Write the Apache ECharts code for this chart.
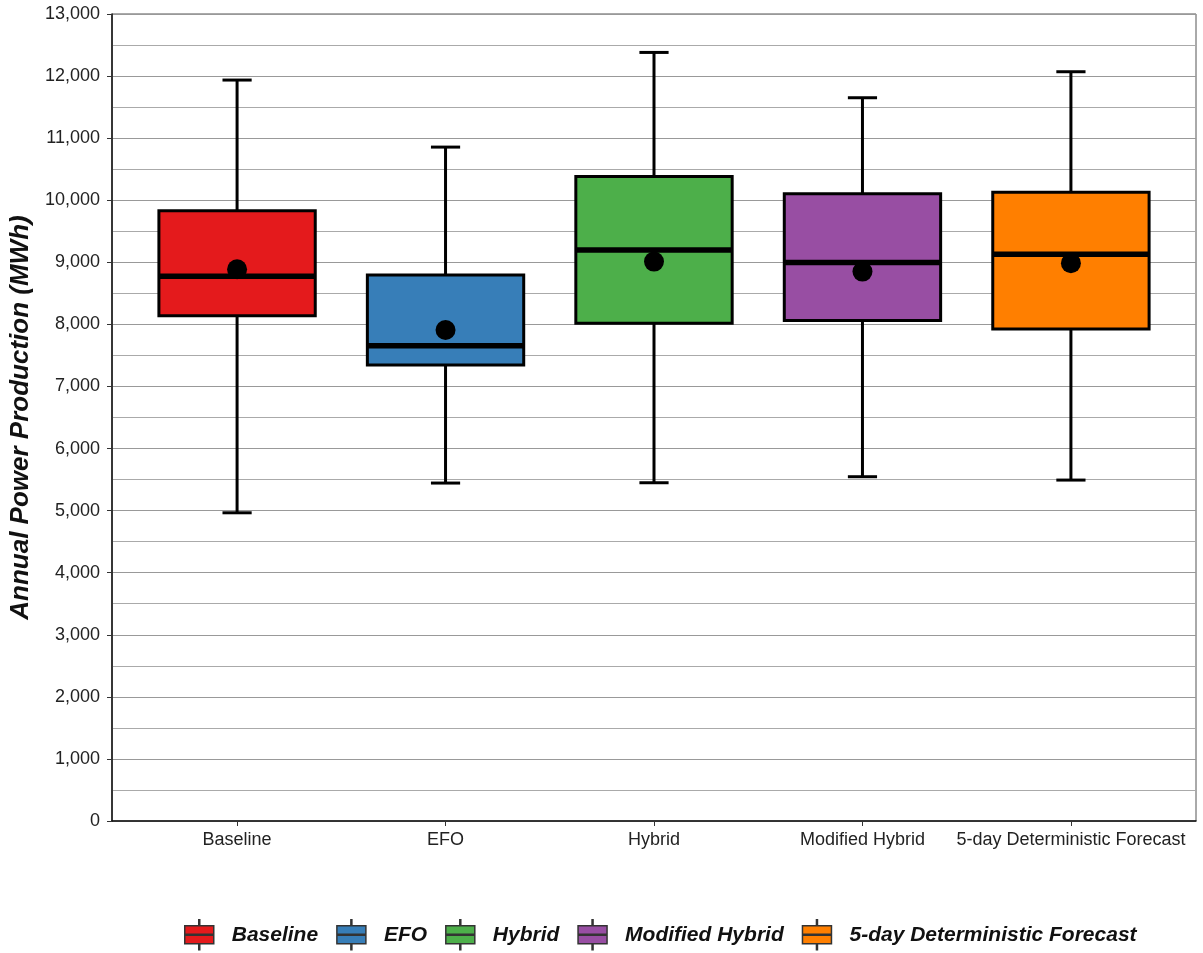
<!DOCTYPE html>
<html>
<head>
<meta charset="utf-8">
<script src="https://cdn.jsdelivr.net/npm/echarts@6/dist/echarts.min.js"></script>
<style>
html,body{margin:0;padding:0;background:#fff;}
#chart{width:1203px;height:953px;}
</style>
</head>
<body>
<div id="chart"></div>
<script>
const categories = ['Baseline', 'EFO', 'Hybrid', 'Modified Hybrid', '5-day Deterministic Forecast'];
const whiskerLow = [4965, 5444, 5449, 5546, 5492];
const q1 = [8141, 7346, 8019, 8061, 7927];
const median = [8776, 7657, 9200, 8996, 9131];
const q3 = [9829, 8797, 10382, 10103, 10130];
const whiskerHigh = [11936, 10856, 12381, 11651, 12070];
const mean = [8889, 7910, 9012, 8851, 8986];
const yTicks = [0, 1000, 2000, 3000, 4000, 5000, 6000, 7000, 8000, 9000, 10000, 11000, 12000, 13000];

const colors = ['#E41A1C', '#377EB8', '#4DAF4A', '#984EA3', '#FF7F00'];
const FONT = 'Liberation Sans, Arial, sans-serif';

const legendIcon = 'path://M14,0H15V6H14Z M0,6H29V24H0Z M14,24H15V30H14Z M0,14.5H29V15.5H0Z';

function renderBox(params, api) {
  const idx = params.seriesIndex;
  const x = api.value(0);
  const lo = api.coord([x, api.value(1)]);
  const b1 = api.coord([x, api.value(2)]);
  const md = api.coord([x, api.value(3)]);
  const b3 = api.coord([x, api.value(4)]);
  const hi = api.coord([x, api.value(5)]);
  const mn = api.coord([x, api.value(6)]);
  const halfW = api.size([0.75, 0])[0] / 2;
  const capW = api.size([0.14, 0])[0] / 2;
  const cx = lo[0];
  const lineStyle = {stroke: '#000', lineWidth: 3};
  return {
    type: 'group',
    children: [
      {type: 'line', shape: {x1: cx, y1: lo[1], x2: cx, y2: b1[1]}, style: lineStyle},
      {type: 'line', shape: {x1: cx, y1: b3[1], x2: cx, y2: hi[1]}, style: lineStyle},
      {type: 'line', shape: {x1: cx - capW, y1: lo[1], x2: cx + capW, y2: lo[1]}, style: lineStyle},
      {type: 'line', shape: {x1: cx - capW, y1: hi[1], x2: cx + capW, y2: hi[1]}, style: lineStyle},
      {type: 'rect', shape: {x: cx - halfW, y: b3[1], width: 2 * halfW, height: b1[1] - b3[1]},
        style: {fill: colors[idx], stroke: '#000', lineWidth: 3}},
      {type: 'line', shape: {x1: cx - halfW, y1: md[1], x2: cx + halfW, y2: md[1]},
        style: {stroke: '#000', lineWidth: 5.5}},
      {type: 'circle', shape: {cx: mn[0], cy: mn[1], r: 10}, style: {fill: '#000'}}
    ]
  };
}

const series = categories.map((name, i) => ({
  name: name,
  type: 'custom',
  renderItem: renderBox,
  itemStyle: {color: colors[i]},
  encode: {x: 0, y: [1, 2, 3, 4, 5, 6]},
  data: [[i, whiskerLow[i], q1[i], median[i], q3[i], whiskerHigh[i], mean[i]]],
  clip: false,
  silent: true
}));

const chart = echarts.init(document.getElementById('chart'), null, {renderer: 'canvas'});
chart.setOption({
  animation: false,
  backgroundColor: '#fff',
  grid: {left: 112, right: 7, top: 14, bottom: 132, show: true, borderColor: '#555', borderWidth: 1, containLabel: false},
  legend: {
    left: 179, top: 914,
    itemWidth: 29, itemHeight: 30, itemGap: 18,
    icon: legendIcon,
    itemStyle: {borderColor: '#333', borderWidth: 1.5},
    textStyle: {fontFamily: FONT, fontWeight: 'bold', fontStyle: 'italic', fontSize: 21, color: '#111', padding: [0, 0, 0, 13]},
    data: categories
  },
  xAxis: {
    type: 'value', min: -0.6, max: 4.6,
    splitLine: {show: false},
    axisLine: {show: true, onZero: false, lineStyle: {color: '#111', width: 1.5}},
    axisTick: {show: true, length: 5, customValues: [0, 1, 2, 3, 4], lineStyle: {color: '#333'}},
    axisLabel: {
      customValues: [0, 1, 2, 3, 4], margin: 10,
      fontFamily: FONT, fontSize: 18, color: '#222',
      formatter: v => categories[Math.round(v)]
    }
  },
  yAxis: {
    type: 'value', min: 0, max: 13000, interval: 1000,
    name: 'Annual Power Production (MWh)',
    nameLocation: 'middle', nameGap: 72, nameRotate: 90,
    nameTextStyle: {fontFamily: FONT, fontWeight: 'bold', fontStyle: 'italic', fontSize: 26, color: '#111'},
    axisLine: {show: true, onZero: false, lineStyle: {color: '#111', width: 1.5}},
    axisTick: {show: true, length: 5, lineStyle: {color: '#333'}},
    axisLabel: {
      margin: 12, fontFamily: FONT, fontSize: 18, color: '#222',
      customValues: yTicks,
      formatter: v => v.toLocaleString('en-US')
    },
    splitLine: {show: true, lineStyle: {color: '#999', width: 1}},
    minorTick: {show: false, splitNumber: 2},
    minorSplitLine: {show: true, lineStyle: {color: '#aaa', width: 1}}
  },
  series: series
});
</script>
</body>
</html>
